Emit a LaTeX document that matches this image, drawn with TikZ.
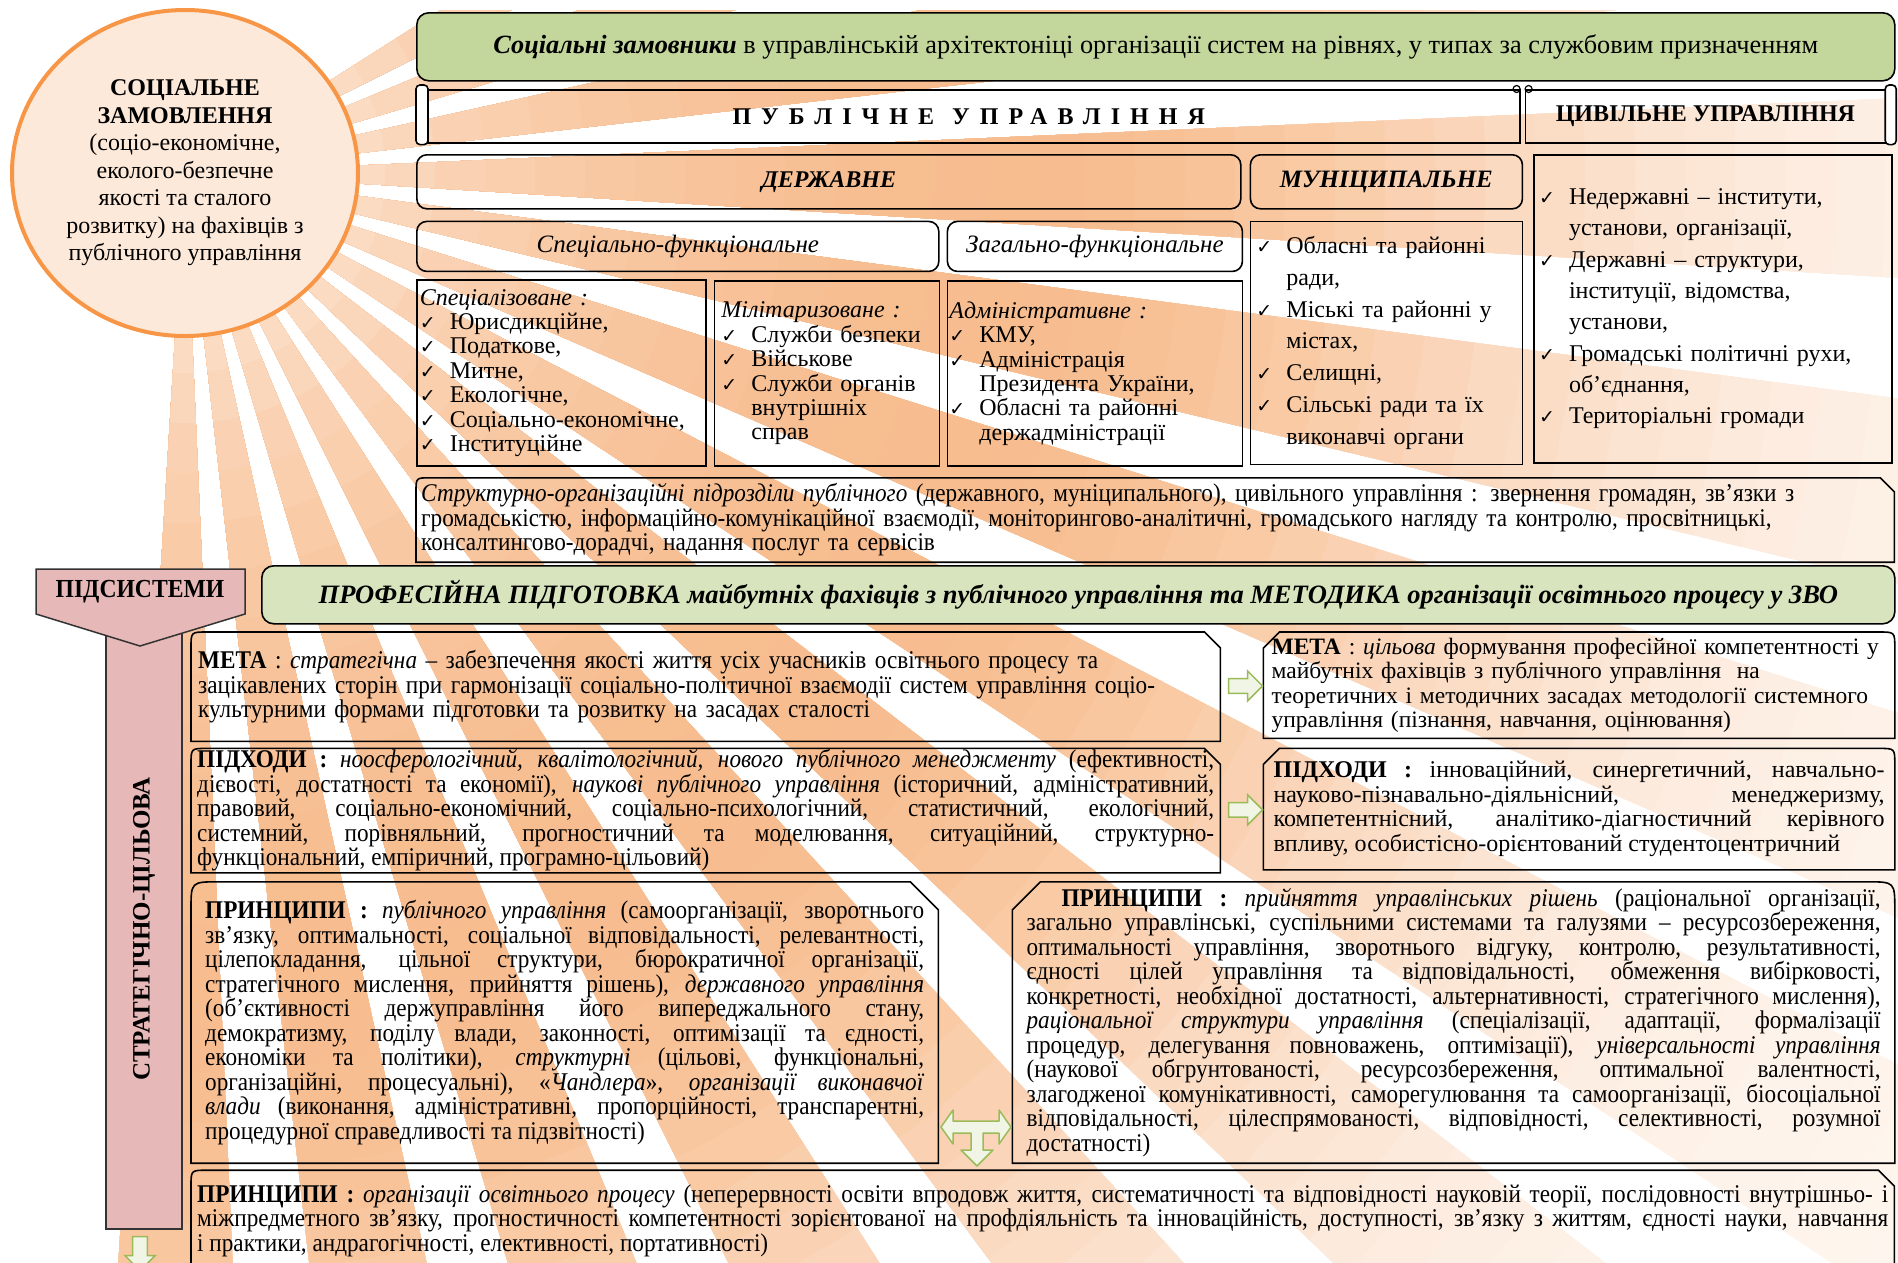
\documentclass[tikz,border=0pt]{standalone}
\usepackage{fontspec}
\setmainfont{Liberation Serif}
\newfontfamily\narrow[FakeStretch=0.91]{Liberation Serif}
\newfontfamily\symfont{DejaVu Sans}
\usepackage{tikz}
\usetikzlibrary{calc,positioning,shapes.arrows}

\definecolor{titleGreen}{RGB}{195,214,155}
\definecolor{profGreen}{RGB}{215,228,189}
\definecolor{sunFill}{RGB}{253,233,217}
\definecolor{sunLine}{RGB}{247,150,70}
\definecolor{rayBase}{RGB}{246,180,128}
\definecolor{barPink}{RGB}{230,185,184}
\definecolor{arrowGreen}{RGB}{155,187,89}
\definecolor{arrowFill}{RGB}{240,245,230}

\newcommand{\fs}[2]{\fontsize{#1}{#2}\selectfont}
\newcommand{\ck}{\makebox[30pt][l]{\symfont\fontsize{19}{19}\selectfont ✓}}
\newcommand{\ind}{\hspace*{30pt}}

\begin{document}
\begin{tikzpicture}[x=1pt, y=-1pt,
    frameStyle/.style={draw=black, line width=1.6pt},
    boxStyle/.style={frameStyle, anchor=north west, inner sep=0pt, align=center},
    listStyle/.style={frameStyle, anchor=north west, inner ysep=0pt, align=left, font=\fs{24}{24.4}},
    paraStyle/.style={anchor=north west, inner ysep=0pt, align=justify},
    narrowFont/.style={font={\narrow\fs{25.5}{24.5}\tolerance=9999 }},
    snipNE/.style={append after command={\pgfextra{\let\LN\tikzlastnode
        \draw[frameStyle] (\LN.south west) -- ([yshift=-#1pt]\LN.north west)
          .. controls (\LN.north west) .. ([xshift=#1pt]\LN.north west)
          -- ([xshift=-#1pt]\LN.north east) -- ([yshift=-#1pt]\LN.north east)
          -- (\LN.south east) -- cycle;}}},
    snipNW/.style={append after command={\pgfextra{\let\LN\tikzlastnode
        \draw[frameStyle] (\LN.south east) -- ([yshift=-#1pt]\LN.north east)
          .. controls (\LN.north east) .. ([xshift=-#1pt]\LN.north east)
          -- ([xshift=#1pt]\LN.north west) -- ([yshift=-#1pt]\LN.north west)
          -- (\LN.south west) -- cycle;}}},
    greenArrow/.style={single arrow, draw=arrowGreen, fill=arrowFill, line width=1.5pt,
        minimum height=34pt, minimum width=30pt, single arrow head extend=6pt, inner sep=5pt},
    barStyle/.style={draw=black!80, line width=1.5pt, fill=barPink}]

  \useasboundingbox (0,0) rectangle (1898,1262);
  \coordinate (sunc) at (185,173);

  % rays of the sun, paler near the sun and far away
  \begin{scope}
    \clip (0,10) rectangle (1898,1262);
    \clip \foreach \a in {-29.5,-19.5,...,90.5} {(sunc) -- ($(sunc)+(\a-3:2300)$) -- ($(sunc)+(\a+3:2300)$) -- cycle};
    \foreach \r in {2150,2100,...,150} {
      \pgfmathsetmacro\p{\r<850 ? 88-43*((850-\r)/680)^2 : 12+76*exp(-((\r-850)/600)^2)}
      \fill[rayBase!\p!white] (sunc) circle (\r);
    }
  \end{scope}

  \draw[draw=sunLine, line width=4pt, fill=sunFill] (sunc) ellipse [x radius=173, y radius=163];
  \node[align=center, font=\fs{24}{27.5}] (sun) at (sunc) {\textbf{СОЦІАЛЬНЕ}\\\textbf{ЗАМОВЛЕННЯ}\\(соціо-економічне,\\еколого-безпечне\\якості та сталого\\розвитку) на фахівців з\\публічного управління};

  %%%%%%%%%%% upper block
  \node[boxStyle, fill=titleGreen, rounded corners=12pt, minimum width=1478, minimum height=68, font=\fs{26.3}{28}] (clients) at (416,12)
    {\textbf{\textit{Соціальні замовники}} в управлінській архітектоніці організації систем на рівнях, у типах за службовим призначенням};

  \node[boxStyle, minimum width=1092, minimum height=53, font=\fs{24}{26}] (pub) at (427,89)
    {\textbf{\addfontfeatures{LetterSpace=42}ПУБЛІЧНЕ\hspace{18pt}УПРАВЛІННЯ}};
  \draw[frameStyle, fill=white, rounded corners=4pt] ($(pub.north west)+(-11,-4)$) rectangle ($(pub.south west)+(1,1)$);
  \draw[frameStyle, line width=1.2pt] ($(pub.north east)+(-4,0)$) circle (3.5);

  \node[boxStyle, minimum width=360, minimum height=53, font=\fs{24}{26}, right=4pt of pub.north east, anchor=north west] (civ)
    {\textbf{ЦИВІЛЬНЕ УПРАВЛІННЯ}};
  \draw[frameStyle, fill=white, rounded corners=4pt] ($(civ.north east)+(-1,-4)$) rectangle ($(civ.south east)+(10,1)$);
  \draw[frameStyle, line width=1.2pt] ($(civ.north west)+(4,0)$) circle (3.5);

  \node[boxStyle, rounded corners=10pt, minimum width=824, minimum height=54, font=\fs{24}{26}] (state) at (416,154) {\textbf{\textit{ДЕРЖАВНЕ}}};
  \node[boxStyle, rounded corners=10pt, minimum width=272, minimum height=54, font=\fs{25}{26}, below right=0pt and 8pt of state.north east] (muni) {\textbf{\textit{МУНІЦИПАЛЬНЕ}}};

  \node[listStyle, minimum width=358, minimum height=308, text width=348, inner xsep=5, font=\fs{24}{31.3}, below right=0pt and 10pt of muni.north east] (civList)
    {\ck Недержавні – інститути,\\ \ind установи, організації,\\ \ck Державні – структури,\\ \ind інституції, відомства,\\ \ind установи,\\ \ck Громадські політичні рухи,\\ \ind об’єднання,\\ \ck Територіальні громади};

  \node[boxStyle, rounded corners=10pt, minimum width=522, minimum height=50, font=\fs{25}{26}, below right=11pt and 0pt of state.south west] (specFun) {\textit{Спеціально-функціональне}};
  \node[boxStyle, rounded corners=10pt, minimum width=295, minimum height=50, font=\fs{25}{26}, below right=0pt and 7pt of specFun.north east] (genFun) {\textit{Загально-функціональне}};

  \node[listStyle, minimum width=272, minimum height=243, text width=260, inner xsep=6, font=\fs{24}{31.7}, below right=11pt and 0pt of muni.south west] (muniList)
    {\ck Обласні та районні\\ \ind ради,\\ \ck Міські та районні у\\ \ind містах,\\ \ck Селищні,\\ \ck Сільські ради та їх\\ \ind виконавчі органи};

  \node[listStyle, minimum width=289, minimum height=186, text width=283, inner xsep=3, below right=7pt and 0pt of specFun.south west] (spec)
    {\textit{Спеціалізоване :}\\ \ck Юрисдикційне,\\ \ck Податкове,\\ \ck Митне,\\ \ck Екологічне,\\ \ck Соціально-економічне,\\ \ck Інституційне};
  \node[listStyle, minimum width=225, minimum height=185, text width=211, inner xsep=7, below right=1pt and 7pt of spec.north east] (mil)
    {\textit{Мілітаризоване :}\\ \ck Служби безпеки\\ \ck Військове\\ \ck Служби органів\\ \ind внутрішніх\\ \ind справ};
  \node[listStyle, minimum width=295, minimum height=185, text width=291, inner xsep=2, below right=8pt and 0pt of genFun.south west] (adm)
    {\textit{Адміністративне :}\\ \ck КМУ,\\ \ck Адміністрація\\ \ind Президента України,\\ \ck Обласні та районні\\ \ind держадміністрації};

  \node[paraStyle, snipNE=14, align=left, minimum width=1478, minimum height=84, text width=1468, inner xsep=5, narrowFont, below right=11pt and 0pt of spec.south west] (struct)
    {\textit{Структурно-організаційні підрозділи публічного} (державного, муніципального), цивільного управління : звернення громадян, зв’язки з\\
     громадськістю, інформаційно-комунікаційної взаємодії, моніторингово-аналітичні, громадського нагляду та контролю, просвітницькі,\\
     консалтингово-дорадчі, надання послуг та сервісів};

  %%%%%%%%%%% subsystems
  \draw[barStyle] (106,614) rectangle (182,1229);
  \draw[barStyle] (36,569) -- (245,569) -- (245,614) -- (140,646) -- (36,614) -- cycle;
  \node[font={\narrow\fs{26}{28}}] (subsys) at (140,592) {\textbf{ПІДСИСТЕМИ}};
  \node[rotate=90, font=\fs{25}{27}] (strat) at (144,929) {\textbf{СТРАТЕГІЧНО-ЦІЛЬОВА}};
  \node[greenArrow, shape border rotate=270] (arrDown) at (140,1250) {};

  \node[boxStyle, fill=profGreen, rounded corners=12pt, minimum width=1633, minimum height=58, font=\fs{26.5}{28}] (prof) at (261,565)
    {\textbf{\textit{ПРОФЕСІЙНА ПІДГОТОВКА майбутніх фахівців з публічного управління та МЕТОДИКА організації освітнього процесу у ЗВО}}};

  \node[paraStyle, snipNE=16, align=left, minimum width=1029, minimum height=109, text width=1015, inner xsep=7, narrowFont] (metaL) at (191,632)
    {\textbf{МЕТА} : \textit{стратегічна} – забезпечення якості життя усіх учасників освітнього процесу та\\
     зацікавлених сторін при гармонізації соціально-політичної взаємодії систем управління соціо-\\
     культурними формами підготовки та розвитку на засадах сталості};
  \node[paraStyle, snipNW=16, align=left, minimum width=631, minimum height=106, text width=615, inner xsep=8, font=\fs{23.5}{24.5}, below right=0pt and 43pt of metaL.north east] (metaR)
    {\textbf{МЕТА} : \textit{цільова} формування професійної компетентності у\\
     майбутніх фахівців з публічного управління \ на\\
     теоретичних і методичних засадах методології системного\\
     управління (пізнання, навчання, оцінювання)};

  \node[paraStyle, snipNE=16, minimum width=1029, minimum height=124, text width=1017, inner xsep=6, narrowFont, below right=7pt and 0pt of metaL.south west] (appL)
    {\textbf{ПІДХОДИ :} \textit{ноосферологічний, квалітологічний, нового публічного менеджменту} (ефективності,\linebreak
     дієвості, достатності та економії), \textit{наукові публічного управління} (історичний, адміністративний,\linebreak
     правовий, соціально-економічний, соціально-психологічний, статистичний, екологічний,\linebreak
     системний, порівняльний, прогностичний та моделювання, ситуаційний, структурно-\linebreak
     функціональний, емпіричний, програмно-цільовий)};
  \node[paraStyle, snipNW=16, minimum width=631, minimum height=121, text width=611, inner xsep=10, font={\fs{24}{24.5}\tolerance=9999 }, below right=10pt and 0pt of metaR.south west] (appR)
    {\textbf{ПІДХОДИ :} інноваційний, синергетичний, навчально-\linebreak
     науково-пізнавально-діяльнісний, менеджеризму,\linebreak
     компетентнісний, аналітико-діагностичний керівного\linebreak
     впливу, особистісно-орієнтований студентоцентричний};

  \node[greenArrow] (arrMeta) at ($(metaL.east)!0.5!(metaR.west)$) {};
  \node[greenArrow] (arrApp) at ($(appL.east)!0.5!(appR.west)$) {};

  \node[paraStyle, snipNE=28, minimum width=747, minimum height=281, text width=719, inner xsep=11, narrowFont, below right=9pt and 0pt of appL.south west] (prinL)
    {\textbf{ПРИНЦИПИ :} \textit{публічного управління} (самоорганізації, зворотнього\linebreak
     зв’язку, оптимальності, соціальної відповідальності, релевантності,\linebreak
     цілепокладання, цільної структури, бюрократичної організації,\linebreak
     стратегічного мислення, прийняття рішень), \textit{державного управління}\linebreak
     (об’єктивності держуправління його випереджального стану,\linebreak
     демократизму, поділу влади, законності, оптимізації та єдності,\linebreak
     економіки та політики), \textit{структурні} (цільові, функціональні,\linebreak
     організаційні, процесуальні), «\textit{Чандлера}», \textit{організації виконавчої}\linebreak
     \textit{влади} (виконання, адміністративні, пропорційності, транспарентні,\linebreak
     процедурної справедливості та підзвітності)};
  \node[paraStyle, snipNW=28, minimum width=882, minimum height=281, text width=854, inner xsep=14, narrowFont, below left=12pt and 0pt of appR.south east] (prinR)
    {\hspace*{35pt}\textbf{ПРИНЦИПИ :} \textit{прийняття управлінських рішень} (раціональної організації,\linebreak
     загально управлінські, суспільними системами та галузями – ресурсозбереження,\linebreak
     оптимальності управління, зворотнього відгуку, контролю, результативності,\linebreak
     єдності цілей управління та відповідальності, обмеження вибірковості,\linebreak
     конкретності, необхідної достатності, альтернативності, стратегічного мислення),\linebreak
     \textit{раціональної структури управління} (спеціалізації, адаптації, формалізації\linebreak
     процедур, делегування повноважень, оптимізації), \textit{універсальності управління}\linebreak
     (наукової обгрунтованості, ресурсозбереження, оптимальної валентності,\linebreak
     злагодженої комунікативності, саморегулювання та самоорганізації, біосоціальної\linebreak
     відповідальності, цілеспрямованості, відповідності, селективності, розумної\linebreak
     достатності)};

  % double arrow between the principles
  \draw[draw=arrowGreen, fill=arrowFill, line width=1.5pt, line join=round]
    (941,1127) -- (953,1110) -- (953,1121) -- (999,1121) -- (999,1110) -- (1011,1127) -- (999,1144) -- (999,1133)
    -- (983,1133) -- (983,1150) -- (993,1150) -- (977,1166) -- (961,1150) -- (971,1150) -- (971,1133)
    -- (953,1133) -- (953,1144) -- cycle;

  \node[paraStyle, snipNE=16, minimum width=1703, minimum height=100, text width=1691, inner xsep=6, narrowFont, below right=7pt and 0pt of prinL.south west] (prinB)
    {\textbf{ПРИНЦИПИ :} \textit{організації освітнього процесу} (неперервності освіти впродовж життя, систематичності та відповідності науковій теорії, послідовності внутрішньо- і\linebreak
     міжпредметного зв’язку, прогностичності компетентності зорієнтованої на профдіяльність та інноваційність, доступності, зв’язку з життям, єдності науки, навчання\linebreak
     і практики, андрагогічності, елективності, портативності)};
\end{tikzpicture}
\end{document}
